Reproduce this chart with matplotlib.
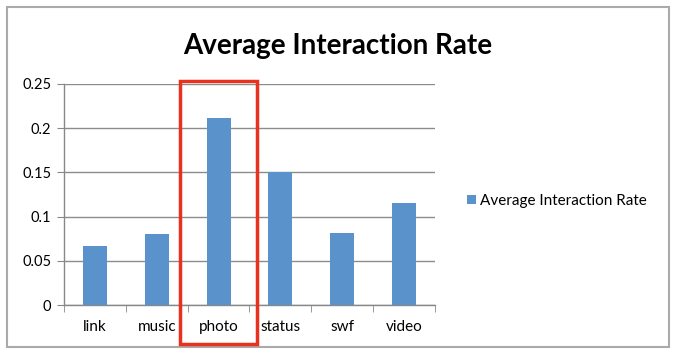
import matplotlib.pyplot as plt
from matplotlib.patches import Rectangle
import numpy as np

categories = ['link', 'music', 'photo', 'status', 'swf', 'video']
rates = [0.067, 0.080, 0.212, 0.150, 0.081, 0.115]
yticks = [0, 0.05, 0.1, 0.15, 0.2, 0.25]
ytick_labels = ['0', '0.05', '0.1', '0.15', '0.2', '0.25']

plt.rcParams['font.family'] = ['Lato', 'DejaVu Sans']

fig = plt.figure(figsize=(6.75, 3.51), dpi=100)
ax = fig.add_axes([0.0948, 0.131, 0.5496, 0.63])

x = np.arange(len(categories))
ax.bar(x, rates, width=0.39, color='#5a93cc', label='Average Interaction Rate', zorder=3)

ax.set_xlim(-0.5, len(categories) - 0.5)
ax.set_ylim(0, 0.25)
ax.set_yticks(yticks)
ax.set_yticklabels(ytick_labels, fontsize=10.5)
ax.set_xticks(x)
ax.set_xticklabels(categories, fontsize=11)
# x tick marks sit between the categories
ax.set_xticks(np.arange(-0.5, len(categories)), minor=True)
ax.tick_params(axis='x', which='major', length=0, pad=11)
ax.tick_params(axis='x', which='minor', length=5, color='#888888', direction='out')
ax.tick_params(axis='y', length=5, color='#888888', pad=4)
ax.yaxis.grid(True, color='#8c8c8c', linewidth=1, zorder=0)

for side in ['top', 'right']:
    ax.spines[side].set_visible(False)
for side in ['left', 'bottom']:
    ax.spines[side].set_color('#888888')
    ax.spines[side].set_linewidth(1)

fig.text(0.5, 0.868, 'Average Interaction Rate', ha='center', va='center',
         fontsize=20, fontweight='bold')

ax.legend(loc='center left', bbox_to_anchor=(1.05, 0.47), frameon=False,
          fontsize=11, handlelength=0.55, handleheight=0.55, handletextpad=0.3)

# outer chart border
fig.patches.append(Rectangle((7 / 675, 4 / 351), 662 / 675, 340 / 351,
                             transform=fig.transFigure, fill=False,
                             edgecolor='#aaaaaa', linewidth=1.5))

# red highlight around photo
fig.patches.append(Rectangle((180 / 675, 7 / 351), 77 / 675, 263 / 351,
                             transform=fig.transFigure, fill=False,
                             edgecolor='#e8321e', linewidth=2.5, zorder=10))

fig.savefig('out.png', dpi=100)
